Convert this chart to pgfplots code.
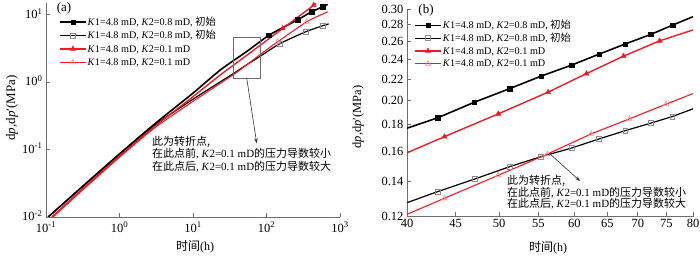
\documentclass[border=0pt]{standalone}
\usepackage{fontspec}
\setmainfont{Liberation Serif}
\newfontfamily\cjk{Noto Sans CJK SC}
\usepackage{pgfplots}
\pgfplotsset{compat=1.18}
\usetikzlibrary{arrows.meta}

\definecolor{myred}{RGB}{237,28,36}
\definecolor{axgray}{RGB}{110,110,110}
\definecolor{mkgray}{RGB}{140,140,140}
\definecolor{mkpink}{RGB}{245,140,140}

\pgfplotsset{
  base/.style={scale only axis, anchor=south west,
    axis x line*=bottom, axis y line*=left,
    axis line style={axgray, line width=0.8pt, -},
    tick style={axgray, line width=0.8pt}, tick align=inside,
    major tick length=4pt, xtick pos=left, ytick pos=left,
    xminorticks=false, yminorticks=false,
    legend cell align=left,
    legend style={draw=none, fill=none, anchor=north west,
      font=\fontsize{10.2}{12}\selectfont, inner sep=0pt, row sep=0pt,
      nodes={inner sep=1pt, text height=9pt, text depth=2.5pt}},
    legend image code/.code={\draw[mark repeat=2,mark phase=2,##1]
      plot coordinates {(0pt,0pt)(13pt,0pt)(26pt,0pt)};}},
  bk1/.style={black, line width=1.6pt},
  bk2/.style={black, line width=1.2pt},
  rd1/.style={myred, line width=1.4pt},
  rd2/.style={myred, line width=1.1pt},
  mbk1/.style={only marks, mark=square*, mark size=2.2pt, mark options={solid, draw=black, fill=black, line width=0.4pt}},
  mbk2/.style={only marks, mark=square, mark size=2.4pt, mark options={solid, draw=mkgray, fill=none, line width=0.6pt}},
  mrd1/.style={only marks, mark=triangle*, mark size=3pt, mark options={solid, draw=myred, fill=myred, line width=0.4pt}},
  mrd2/.style={only marks, mark=triangle, mark size=3pt, mark options={solid, draw=mkpink, fill=none, line width=0.6pt}},
}

\begin{document}
\begin{tikzpicture}
\useasboundingbox (0pt,0pt) rectangle (700pt,256pt);

% (a)
\begin{axis}[base, at={(46pt,39pt)}, width=294pt, height=214pt,
  xmode=log, ymode=log, xmin=0.1, xmax=1000, ymin=0.01, ymax=15,
  xtick={0.1,1,10,100,1000},
  xticklabels={10\textsuperscript{-1},10\textsuperscript{0},10\textsuperscript{1},10\textsuperscript{2},10\textsuperscript{3}},
  ytick={0.01,0.1,1,10},
  yticklabels={10\textsuperscript{-2},10\textsuperscript{-1},10\textsuperscript{0},10\textsuperscript{1}},
  ticklabel style={font=\fontsize{12.5}{12.5}\selectfont},
  xticklabel style={yshift=-1.5pt},
  yticklabel style={yshift=1.5pt},
  legend style={at={(0.044,0.944)}}]
\addplot[bk1, smooth, tension=0.4, forget plot] coordinates {(0.107,0.01)(0.3,0.0272)(1,0.0864)(3,0.24)(10,0.69)(23.7,1.53)(53.6,2.85)(107,4.95)(200,7.19)(266,8.46)(412,11.1)(583,13.2)(680,14.3)};
\addplot[bk2, smooth, tension=0.4, forget plot] coordinates {(0.107,0.01)(0.3,0.027)(1,0.085)(3,0.23)(10,0.56)(35.6,1.35)(56,1.87)(83,2.45)(151,3.72)(341,5.61)(583,6.89)(703,7.35)};
\addplot[rd1, smooth, tension=0.4, forget plot] coordinates {(0.12,0.01)(0.3,0.025)(1,0.080)(3,0.22)(10,0.61)(23.7,1.29)(53.6,2.5)(114,4.62)(166,6.28)(292,9.95)(439,13.9)(470,14.8)};
\addplot[rd2, smooth, tension=0.4, forget plot] coordinates {(0.125,0.01)(0.3,0.024)(1,0.077)(3,0.21)(10,0.52)(35.6,1.3)(56,1.87)(83,2.6)(142,3.98)(352,7.89)(682,11.1)};
\addplot[mbk1, forget plot] coordinates {(107,4.95)(266,8.46)(412,11.1)(583,13.2)};
\addplot[mbk2, forget plot] coordinates {(151,3.72)(341,5.61)(583,6.89)};
\addplot[mrd1, forget plot] coordinates {(166,6.28)(439,13.9)};
\addplot[mrd2, forget plot] coordinates {(142,3.98)(352,7.89)};
\addlegendimage{bk1, mark=square*, mark size=2.2pt, mark options={solid, fill=black, line width=0.4pt}}
\addlegendentry{\textit{K}1=4.8 mD, \textit{K}2=0.8 mD, {\cjk 初始}}
\addlegendimage{bk2, mark=square, mark size=2.4pt, mark options={solid, draw=mkgray, line width=0.6pt}}
\addlegendentry{\textit{K}1=4.8 mD, \textit{K}2=0.8 mD, {\cjk 初始}}
\addlegendimage{rd1, mark=triangle*, mark size=3pt, mark options={solid, fill=myred, line width=0.4pt}}
\addlegendentry{\textit{K}1=4.8 mD, \textit{K}2=0.1 mD}
\addlegendimage{rd2, mark=triangle, mark size=3pt, mark options={solid, draw=mkpink, line width=0.6pt}}
\addlegendentry{\textit{K}1=4.8 mD, \textit{K}2=0.1 mD}
\end{axis}

% (b)
\begin{axis}[base, at={(407pt,40pt)}, width=287pt, height=207pt,
  xmode=log, ymode=log, xmin=40, xmax=80.2, ymin=0.12, ymax=0.30,
  xtick={40,45,50,55,60,65,70,75,80},
  xticklabels={40,45,50,55,60,65,70,75,80},
  ytick={0.12,0.14,0.16,0.18,0.20,0.22,0.24,0.26,0.28,0.30},
  yticklabels={0.12,0.14,0.16,0.18,0.20,0.22,0.24,0.26,0.28,0.30},
  ticklabel style={font=\fontsize{12.5}{12.5}\selectfont},
  legend style={at={(0.0245,0.953)}, nodes={text height=8.6pt, text depth=2.2pt}}]
\addplot[bk1, forget plot] coordinates {(40,0.177)(43.1,0.1854)(47.1,0.1986)(51.3,0.2109)(55.4,0.223)(59.6,0.234)(63.7,0.2456)(67.9,0.257)(72.2,0.268)(76.2,0.2795)(80,0.290)};
\addplot[bk2, forget plot] coordinates {(40,0.1273)(43.1,0.1337)(47.1,0.1413)(51.3,0.1493)(55.3,0.156)(59.6,0.1621)(63.7,0.1688)(67.9,0.1751)(72.2,0.181)(76.1,0.1864)(80,0.1929)};
\addplot[rd1, forget plot] coordinates {(40,0.1587)(43.8,0.1705)(49.9,0.1886)(56.3,0.2076)(61.8,0.2254)(67.6,0.2435)(73.8,0.2606)(80,0.2734)};
\addplot[rd2, forget plot] coordinates {(40,0.1209)(43.8,0.1298)(49.9,0.1437)(56.2,0.1578)(62.5,0.1726)(68.6,0.1845)(75.0,0.1970)(80,0.2063)};
\addplot[mbk1, forget plot] coordinates {(43.1,0.1854)(47.1,0.1986)(51.3,0.2109)(55.4,0.223)(59.6,0.234)(63.7,0.2456)(67.9,0.257)(72.2,0.268)(76.2,0.2795)};
\addplot[mbk2, forget plot] coordinates {(43.1,0.1337)(47.1,0.1413)(51.3,0.1493)(55.3,0.156)(59.6,0.1621)(63.7,0.1688)(67.9,0.1751)(72.2,0.181)(76.1,0.1864)};
\addplot[mrd1, forget plot] coordinates {(43.8,0.1705)(49.9,0.1886)(56.3,0.2076)(61.8,0.2254)(67.6,0.2435)(73.8,0.2606)};
\addplot[mrd2, forget plot] coordinates {(43.8,0.1298)(49.9,0.1437)(56.2,0.1578)(62.5,0.1726)(68.6,0.1845)(75.0,0.1970)};
\addlegendimage{bk1, mark=square*, mark size=2.2pt, mark options={solid, fill=black, line width=0.4pt}}
\addlegendentry{\textit{K}1=4.8 mD, \textit{K}2=0.8 mD, {\cjk 初始}}
\addlegendimage{bk2, mark=square, mark size=2.4pt, mark options={solid, draw=mkgray, line width=0.6pt}}
\addlegendentry{\textit{K}1=4.8 mD, \textit{K}2=0.8 mD, {\cjk 初始}}
\addlegendimage{rd1, mark=triangle*, mark size=3pt, mark options={solid, fill=myred, line width=0.4pt}}
\addlegendentry{\textit{K}1=4.8 mD, \textit{K}2=0.1 mD}
\addlegendimage{rd2, mark=triangle, mark size=3pt, mark options={solid, draw=mkpink, line width=0.6pt}}
\addlegendentry{\textit{K}1=4.8 mD, \textit{K}2=0.1 mD}
\end{axis}

% panel labels and axis titles
\node[font=\fontsize{13}{13}\selectfont] at (64pt,248pt) {(a)};
\node[font=\fontsize{13}{13}\selectfont] at (426pt,246pt) {(b)};
\node[font=\fontsize{12}{12}\selectfont] at (195pt,9pt) {{\cjk 时间}(h)};
\node[font=\fontsize{12}{12}\selectfont] at (548pt,8pt) {{\cjk 时间}(h)};
\node[rotate=90, font=\fontsize{13}{13}\selectfont] at (12pt,148pt) {d\textit{p},d\textit{p}′(MPa)};
\node[rotate=90, font=\fontsize{12.5}{12.5}\selectfont] at (358pt,139pt) {d\textit{p},d\textit{p}′(MPa)};

% annotations
\draw[axgray, line width=0.9pt] (233pt,178pt) rectangle (260pt,219pt);
\draw[black!80, line width=0.6pt, -{Stealth[length=5pt,width=3.5pt]}] (246.7pt,178pt) -- (256.7pt,112.7pt);
\node[anchor=north west, align=left, inner sep=0pt, font=\fontsize{11}{12.4}\selectfont] at (152pt,120pt)
  {{\cjk 此为转折点,}\\{\cjk 在此点前}, \textit{K}2=0.1 mD{\cjk 的压力导数较小}\\{\cjk 在此点后}, \textit{K}2=0.1 mD{\cjk 的压力导数较大}};
\draw[black!80, line width=0.6pt, -{Stealth[length=5pt,width=3.5pt]}] (549.3pt,102.7pt) -- (580pt,75pt);
\node[anchor=north west, align=left, inner sep=0pt, font=\fontsize{11}{11.6}\selectfont] at (507pt,81pt)
  {{\cjk 此为转折点,}\\{\cjk 在此点前}, \textit{K}2=0.1 mD{\cjk 的压力导数较小}\\{\cjk 在此点后}, \textit{K}2=0.1 mD{\cjk 的压力导数较大}};
\end{tikzpicture}
\end{document}
